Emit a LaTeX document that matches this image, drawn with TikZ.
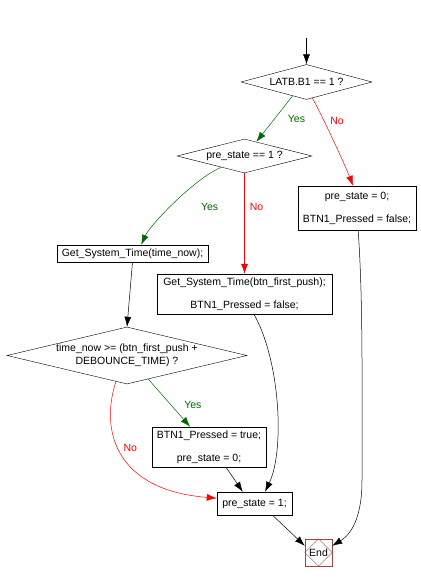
\documentclass[tikz,border=0pt]{standalone}
\usepackage{fontspec}
\setmainfont{Liberation Sans}
\usetikzlibrary{shapes.geometric,arrows.meta}
\definecolor{fcGreen}{HTML}{006600}
\definecolor{fcRed}{HTML}{FF0000}
\definecolor{fcEnd}{HTML}{A04040}

\begin{document}
\begin{tikzpicture}[x=1pt,y=-1pt,
    every node/.style={font=\fontsize{10.5}{12.5}\selectfont},
    box/.style={draw, align=center, inner sep=0pt},
    test/.style={draw, diamond, align=center, inner sep=0pt},
    flow/.style={-{Latex[length=10pt,width=7pt]}, line width=0.5pt},
    yes/.style={flow, fcGreen},
    no/.style={flow, fcRed}]
    \useasboundingbox (0,0) rectangle (420,583);
    \coordinate (entry) at (306.5,38);
    \node[test, aspect=3.74, minimum width=131pt, minimum height=35pt] (latb) at (306.5,82) {LATB.B1 == 1 ?};
    \node[test, aspect=3.97, minimum width=135pt, minimum height=34pt] (prev) at (244.5,156) {pre\_state == 1 ?};
    \node[box, minimum width=118pt, minimum height=44pt] (reset) at (357,208) {pre\_state = 0;\\[10.5pt]BTN1\_Pressed = false;};
    \node[box, minimum width=151pt, minimum height=17pt] (now) at (132.5,253.5) {Get\_System\_Time(time\_now);};
    \node[box, minimum width=175pt, minimum height=40pt] (first) at (244.5,294) {Get\_System\_Time(btn\_first\_push);\\[10.5pt]BTN1\_Pressed = false;};
    \node[test, aspect=4.21, inner xsep=-6pt, inner ysep=-2pt, minimum width=240pt, minimum height=57pt] (timeout) at (127,355.5) {time\_now >= (btn\_first\_push +\\DEBOUNCE\_TIME) ?};
    \node[box, minimum width=114pt, minimum height=40pt] (pressed) at (209,447) {BTN1\_Pressed = true;\\[10.5pt]pre\_state = 0;};
    \node[box, minimum width=75pt, minimum height=23pt] (set) at (254.5,503.5) {pre\_state = 1;};
    \node[draw=fcEnd, minimum size=27pt, inner sep=0pt] (end) at (318.5,552.5) {};
    \draw[fcEnd] (end.north) -- (end.east) -- (end.south) -- (end.west) -- cycle;
    \node at (end) {End};
    % branches
    \draw[flow] (entry) -- (latb.north);
    \draw[yes] (latb.-135) -- node[pos=.5, xshift=22pt]{Yes} (prev.50);
    \draw[no] (latb.-70) .. controls (322,115) and (345,165) .. node[pos=.28, xshift=14pt, yshift=-2pt]{No} (reset.100);
    \draw[yes] (prev.-154) .. controls (195,178) and (150,225) .. node[pos=.6, xshift=44pt, yshift=5pt]{Yes} (now.45);
    \draw[no] (prev.south) -- node[pos=.34, xshift=12pt]{No} (first.north);
    \draw[flow] (now.south) -- (timeout.north);
    \draw[yes] (timeout.-48) -- node[pos=.54, xshift=22pt]{Yes} (pressed.133);
    \draw[no] (timeout.-113) .. controls (100,430) and (115,490) .. node[pos=.45, xshift=12pt]{No} (set.172);
    % joins
    \draw[flow] (first.-65) .. controls (280,360) and (285,450) .. (set.48);
    \draw[flow] (pressed.-50) -- (set.135);
    \draw[flow] (set.-33) -- (end.154);
    \draw[flow] (reset.-87) .. controls (363,300) and (362,380) .. (362,480) .. controls (362,520) and (350,535) .. (end.26);
\end{tikzpicture}
\end{document}
